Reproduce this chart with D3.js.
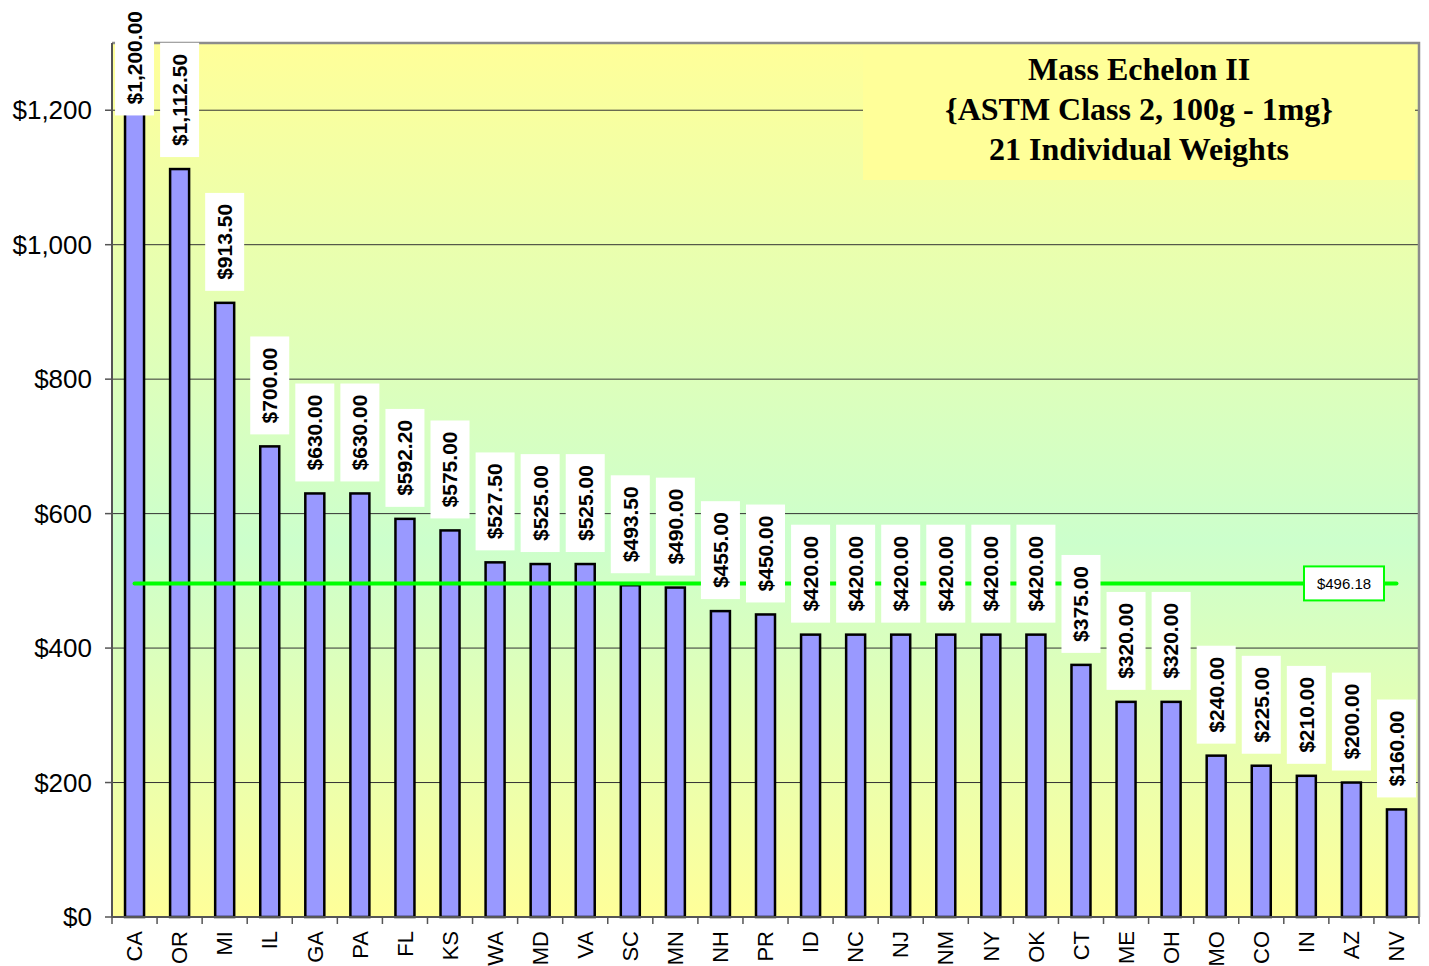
<!DOCTYPE html>
<html>
<head>
<meta charset="utf-8">
<script src="https://cdn.jsdelivr.net/npm/d3@7/dist/d3.min.js"></script>
<style>
  html, body { margin: 0; padding: 0; background: #ffffff; }
  svg { display: block; }
</style>
</head>
<body>
<svg id="chart" width="1429" height="966"></svg>
<script>
// Price per state for the Mass Echelon II weight set
const states = ["CA","OR","MI","IL","GA","PA","FL","KS","WA","MD","VA","SC","MN","NH","PR",
                "ID","NC","NJ","NM","NY","OK","CT","ME","OH","MO","CO","IN","AZ","NV"];
const prices = [1200.00, 1112.50, 913.50, 700.00, 630.00, 630.00, 592.20, 575.00, 527.50, 525.00,
                525.00, 493.50, 490.00, 455.00, 450.00, 420.00, 420.00, 420.00, 420.00, 420.00,
                420.00, 375.00, 320.00, 320.00, 240.00, 225.00, 210.00, 200.00, 160.00];
const averagePrice = 496.18;
const yTicks = [0, 200, 400, 600, 800, 1000, 1200];
const titleLines = ["Mass Echelon II", "{ASTM Class 2, 100g - 1mg}", "21 Individual Weights"];

const svg = d3.select("#chart");
const plot = { left: 112, right: 1419, top: 43, bottom: 917 };

const x = d3.scaleBand().domain(states).range([plot.left, plot.right]).paddingInner(0).paddingOuter(0);
const y = d3.scaleLinear().domain([0, 1300]).range([plot.bottom, plot.top]);
const money = d3.format("$,.2f");
const moneyTick = d3.format("$,.0f");

// Background gradient of the plot area
const defs = svg.append("defs");
const grad = defs.append("linearGradient").attr("id", "bg").attr("x1", 0).attr("y1", 0).attr("x2", 0).attr("y2", 1);
grad.append("stop").attr("offset", "0%").attr("stop-color", "#ffff99");
grad.append("stop").attr("offset", "57%").attr("stop-color", "#ccffcc");
grad.append("stop").attr("offset", "100%").attr("stop-color", "#ffff99");

svg.append("rect")
  .attr("x", plot.left).attr("y", plot.top)
  .attr("width", plot.right - plot.left).attr("height", plot.bottom - plot.top)
  .attr("fill", "url(#bg)");

// Horizontal gridlines
svg.append("g").selectAll("line").data(yTicks.filter(d => d > 0)).join("line")
  .attr("x1", plot.left).attr("x2", plot.right)
  .attr("y1", d => y(d)).attr("y2", d => y(d))
  .attr("stroke", "#333").attr("stroke-width", 1);

// Plot border (top and right)
svg.append("path")
  .attr("d", `M${plot.left},${plot.top}H${plot.right}V${plot.bottom}`)
  .attr("fill", "none").attr("stroke", "#8c8c8c").attr("stroke-width", 2.5);

// Title box
const tb = { x: 863, y: 45, w: 552, h: 135 };
svg.append("rect").attr("x", tb.x).attr("y", tb.y).attr("width", tb.w).attr("height", tb.h).attr("fill", "#ffff99");
svg.append("g").selectAll("text").data(titleLines).join("text")
  .attr("x", tb.x + 276).attr("y", (d, i) => 80 + i * 40)
  .attr("text-anchor", "middle")
  .attr("font-family", "'Liberation Serif', 'Times New Roman', serif")
  .attr("font-weight", "bold").attr("font-size", 32)
  .attr("fill", "#000").text(d => d);

// Bars
const barW = 19;
const data = states.map((s, i) => ({ state: s, value: prices[i] }));
svg.append("g").selectAll("rect").data(data).join("rect")
  .attr("x", d => x(d.state) + x.bandwidth() / 2 - barW / 2)
  .attr("y", d => y(d.value))
  .attr("width", barW)
  .attr("height", d => y(0) - y(d.value))
  .attr("fill", "#9999ff").attr("stroke", "#000").attr("stroke-width", 2.5);

// Average line
const first = x(states[0]) + x.bandwidth() / 2;
const last = x(states[states.length - 1]) + x.bandwidth() / 2;
svg.append("line")
  .attr("x1", first).attr("x2", last)
  .attr("y1", y(averagePrice)).attr("y2", y(averagePrice))
  .attr("stroke", "#00ff00").attr("stroke-width", 4).attr("stroke-linecap", "round");

// Average label
const avgG = svg.append("g").attr("transform", `translate(1344,${y(averagePrice)})`);
avgG.append("rect").attr("x", -40).attr("y", -17).attr("width", 80).attr("height", 34)
  .attr("fill", "#fff").attr("stroke", "#00ff00").attr("stroke-width", 2);
avgG.append("text").attr("text-anchor", "middle").attr("dy", "0.35em")
  .attr("font-family", "'Liberation Sans', Arial, sans-serif").attr("font-size", 15)
  .attr("fill", "#000").text(money(averagePrice));

// Value labels (rotated, on white boxes)
const labelFont = 21, boxW = 39, padText = 11, gap = 12;
const labels = svg.append("g");
data.forEach(d => {
  const cx = x(d.state) + x.bandwidth() / 2;
  const t = labels.append("text")
    .attr("font-family", "'Liberation Sans', Arial, sans-serif")
    .attr("font-weight", "bold").attr("font-size", labelFont)
    .attr("text-anchor", "middle").attr("dy", "0.35em")
    .text(money(d.value));
  const len = t.node().getComputedTextLength();
  const boxH = len + 2 * padText;
  let bottom = y(d.value) - gap;
  let top = bottom - boxH;
  if (top < 0) { top = 0; bottom = boxH; }
  const cy = (top + bottom) / 2;
  labels.insert("rect", "text:last-child")
    .attr("x", cx - boxW / 2).attr("y", top).attr("width", boxW).attr("height", boxH)
    .attr("fill", "#fff");
  t.attr("transform", `translate(${cx},${cy}) rotate(-90)`);
});

// Y axis
const yAxis = svg.append("g");
yAxis.append("line").attr("x1", plot.left).attr("x2", plot.left).attr("y1", plot.top).attr("y2", plot.bottom)
  .attr("stroke", "#555").attr("stroke-width", 2);
yAxis.selectAll("line.tick").data(yTicks).join("line").attr("class", "tick")
  .attr("x1", plot.left - 7).attr("x2", plot.left)
  .attr("y1", d => y(d)).attr("y2", d => y(d)).attr("stroke", "#555").attr("stroke-width", 1.5);
yAxis.selectAll("text").data(yTicks).join("text")
  .attr("x", 92).attr("y", d => y(d)).attr("dy", "0.35em")
  .attr("text-anchor", "end")
  .attr("font-family", "'Liberation Sans', Arial, sans-serif").attr("font-size", 26)
  .attr("fill", "#000").text(d => moneyTick(d));

// X axis
const xAxis = svg.append("g");
xAxis.append("line").attr("x1", plot.left).attr("x2", plot.right).attr("y1", plot.bottom).attr("y2", plot.bottom)
  .attr("stroke", "#555").attr("stroke-width", 2);
const bounds = states.map(s => x(s)).concat([plot.right]);
xAxis.selectAll("line.tick").data(bounds).join("line").attr("class", "tick")
  .attr("x1", d => d).attr("x2", d => d)
  .attr("y1", plot.bottom).attr("y2", plot.bottom + 7)
  .attr("stroke", "#555").attr("stroke-width", 1.5);
xAxis.selectAll("text").data(states).join("text")
  .attr("transform", d => `translate(${x(d) + x.bandwidth() / 2},${plot.bottom + 14}) rotate(-90)`)
  .attr("text-anchor", "end").attr("dy", "0.35em")
  .attr("font-family", "'Liberation Sans', Arial, sans-serif").attr("font-size", 22)
  .attr("fill", "#000").text(d => d);
</script>
</body>
</html>
